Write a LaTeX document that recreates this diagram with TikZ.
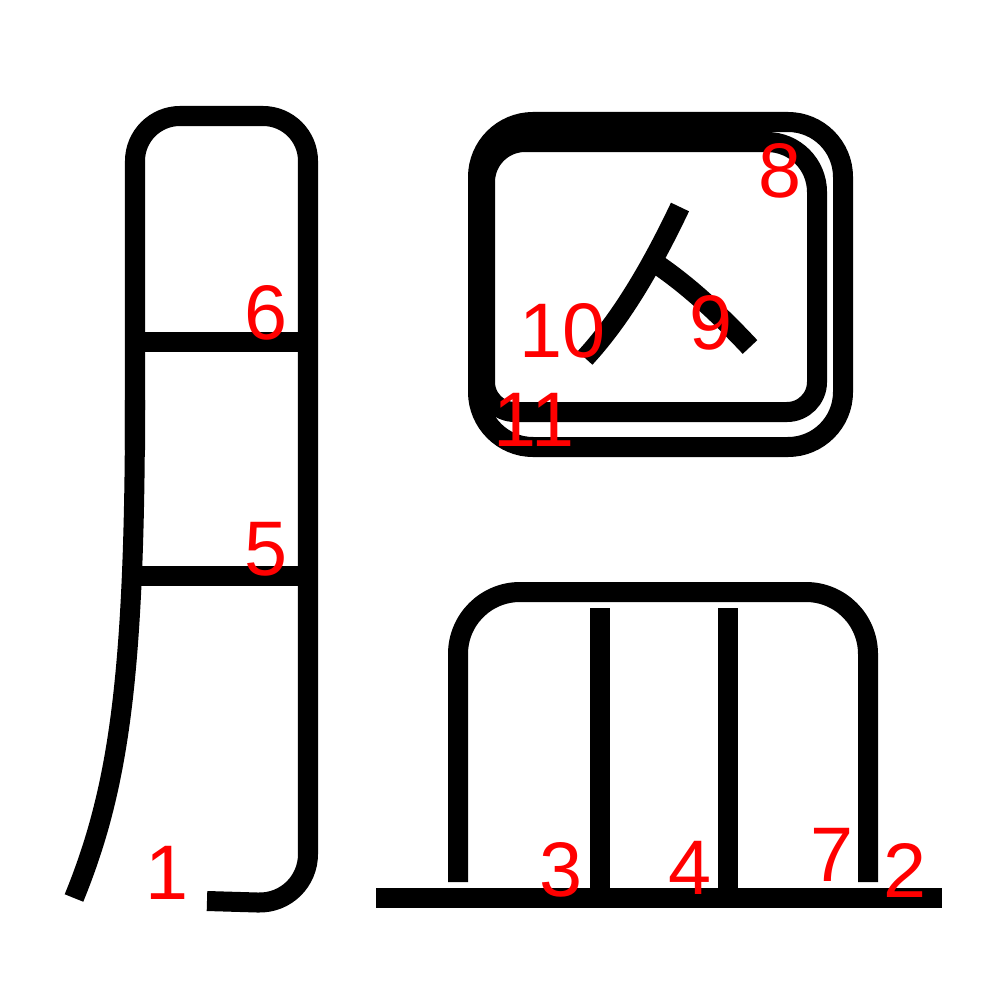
\documentclass[tikz,border=0pt]{standalone}
\usepackage{fontspec}
\setmainfont{Liberation Sans}

\begin{document}
\begin{tikzpicture}[x=0.01cm, y=-0.01cm,
                    stroke/.style={line width=0.2cm},
                    num/.style={text=red, font=\fontsize{22}{24}\selectfont, inner sep=0pt}]
                    \useasboundingbox (0,0) rectangle (1000,1000);
                    \draw[stroke] (135,400) .. controls (135,680) and (118,790) .. (74,898);
                    \draw[stroke, rounded corners=0.45cm] (135,450) -- (135,116) -- (308,116) -- (308,600) [rounded corners=0.5cm] -- (308,904) -- (207,901);
                    \draw[stroke] (140,342) -- (298,342);
                    \draw[stroke] (138,576) -- (298,576);
                    \draw[stroke, rounded corners=0.55cm] (478,122) rectangle (843,447);
                    \draw[stroke] (485,300) [rounded corners=0.4cm] -- (485,142) -- (650,142) [rounded corners=0.5cm] -- (817,142) -- (817,300) [rounded corners=0.3cm] -- (817,412) -- (485,412) -- cycle;
                    \draw[stroke] (680,207) .. controls (650,270) and (620,320) .. (585,358);
                    \draw[stroke] (658,265) .. controls (690,287) and (720,315) .. (750,347);
                    \draw[stroke, rounded corners=0.62cm] (458,882) -- (458,592) -- (868,592) -- (868,882);
                    \draw[stroke] (600,608) -- (600,890);
                    \draw[stroke] (728,608) -- (728,890);
                    \draw[stroke] (376,898) -- (942,898);
                    \node[num] (L1) at (167,873) {1};
                    \node[num] (L2) at (905,870) {2};
                    \node[num] (L3) at (561,870) {3};
                    \node[num] (L4) at (690,868) {4};
                    \node[num] (L5) at (266,549) {5};
                    \node[num] (L6) at (266,313) {6};
                    \node[num] (L7) at (832,855) {7};
                    \node[num] (L8) at (780,171) {8};
                    \node[num] (L9) at (711,323) {9};
                    \node[num] (L10) at (563,331) {10};
                    \node[num] (L11) at (534,420) {11};
                \end{tikzpicture}
\end{document}
